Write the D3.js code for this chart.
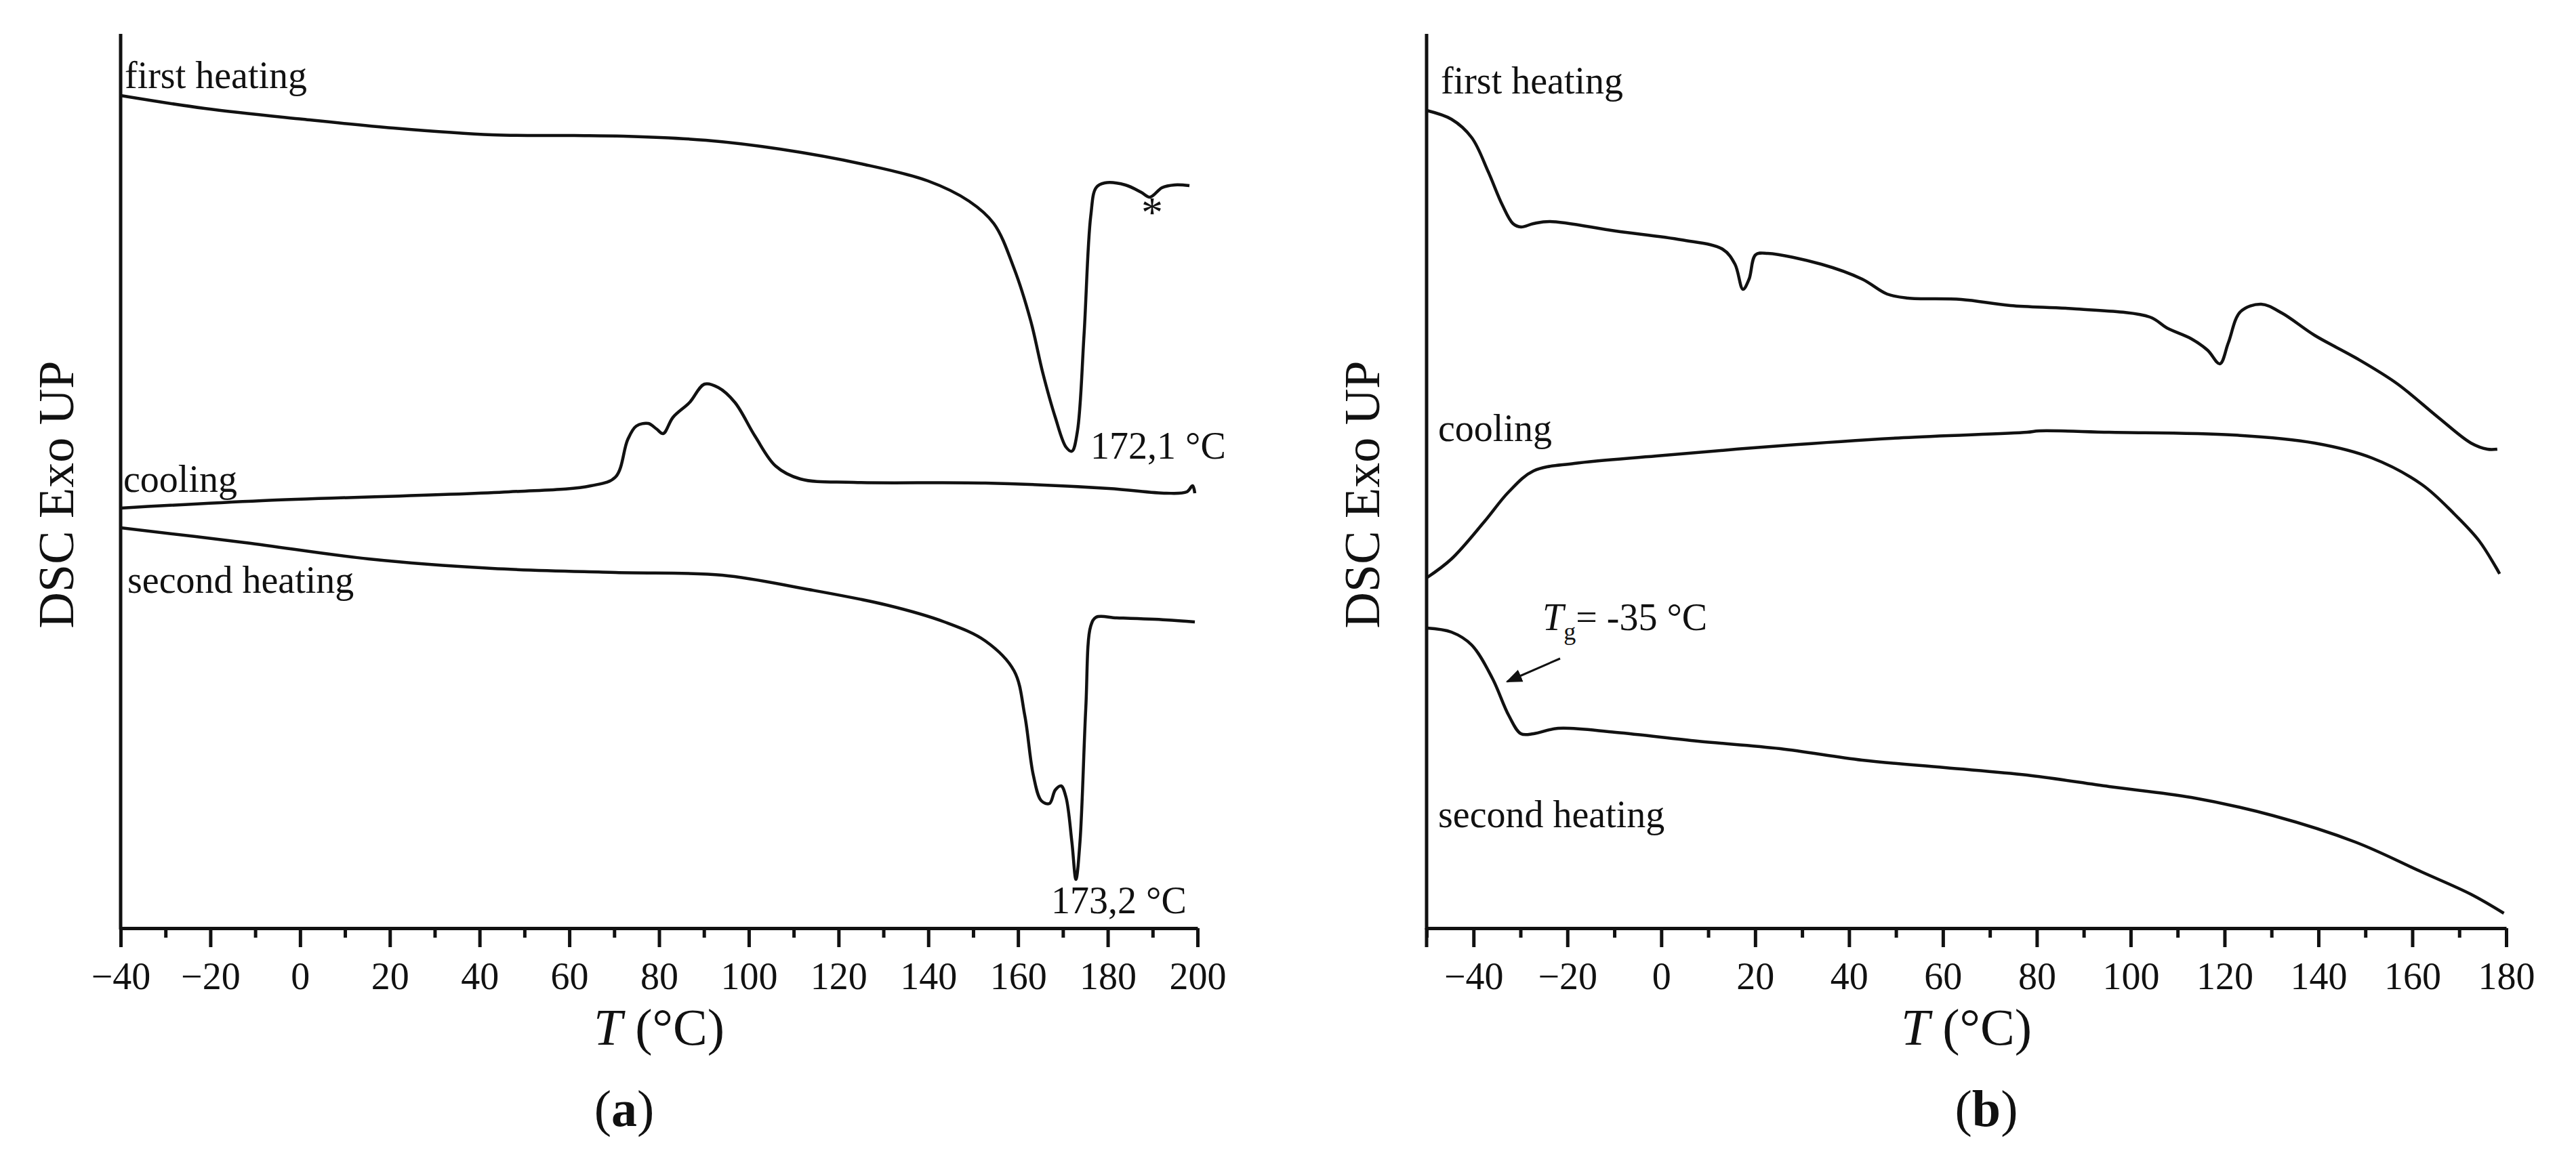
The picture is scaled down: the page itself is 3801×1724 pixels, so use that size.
<!DOCTYPE html>
<html>
<head>
<meta charset="utf-8">
<title>DSC</title>
<script src="https://d3js.org/d3.v7.min.js"></script>
<style>
  body { margin: 0; background: #fff; }
  text { font-family: "Liberation Serif", "DejaVu Serif", serif; fill: #111; }
</style>
</head>
<body>
<div id="chart"></div>
<script>
// Panel (a): temperatures and DSC signal (arbitrary units, exo up)
const aHeat1T = [-40,-21.3,0.7,20.8,42.8,61.1,72.1,90.4,106.9,125.2,139.9,149.1,154.6,159.1,162.8,165.5,168.3,170.7,172.0,173.2,174.7,176.2,177.4,179.3,183.9,187.5,189.4,192.1,194.9,198.2];
const aHeat1V = [1229,1210,1194,1181,1171,1170,1169,1163,1150,1128,1103,1073,1040,974,897,820,754,710,704,732,875,1051,1093,1100,1097,1086,1079,1093,1097,1096];
const aCoolT = [-40,-8.5,46.5,64.8,70.3,73.0,74.9,77.6,79.4,80.9,83.1,86.8,90.1,93.2,96.9,101.4,106.0,111.5,123.4,152.7,180.2,193.0,197.6,198.9,199.4];
const aCoolV = [620,631,644,653,666,721,741,745,737,730,754,776,803,798,776,726,682,663,658,657,649,642,644,653,642];
const aHeat2T = [-40,-12.2,15.3,42.8,70.3,94.1,112.4,130.7,143.6,152.7,159.1,161.5,163.4,165.2,167.0,168.3,169.6,170.7,172.0,172.9,173.8,175.1,176.2,177.4,182.0,193.0,199.4];
const aHeat2V = [591,569,545,531,525,521,501,477,452,424,380,314,226,188,184,204,210,193,127,72,127,325,446,459,458,455,452];

// Panel (b)
const bHeat1T = [-50,-44.7,-40.4,-36.9,-33.9,-31.6,-29.9,-27.2,-23.7,-9.7,4.3,13.1,15.7,17.4,18.7,20.1,22.7,34.1,42.8,48.1,52.5,63.9,74.4,88.4,104.1,107.7,112.9,116.4,119.0,120.8,123.4,127.8,132.2,139.2,147.9,156.7,165.5,172.5,176.0,178.1];
const bHeat1V = [1207,1194,1167,1117,1068,1040,1035,1040,1043,1029,1016,1002,980,943,958,994,996,980,958,936,930,928,919,914,902,886,870,853,833,864,910,921,908,875,842,804,754,716,707,707];
const bCoolT = [-50,-44.7,-37.7,-32.5,-27.2,-18.5,-1.0,25.3,51.6,77.9,80.5,95.4,121.7,139.2,151.4,162.0,169.0,174.2,177.7,178.6];
const bCoolV = [517,545,600,644,675,686,697,712,724,732,734,732,728,716,694,655,611,572,534,523];
const bHeat2T = [-50,-44.7,-40.4,-36.0,-32.5,-29.9,-27.2,-22.0,-9.7,7.8,25.3,42.8,60.4,77.9,95.4,112.9,130.4,147.9,162.0,172.5,179.5];
const bHeat2V = [443,437,418,369,314,287,287,295,289,276,265,248,237,226,209,193,166,127,83,50,22];

const aTicks = d3.range(-40, 201, 20);
const bTicks = d3.range(-40, 181, 20);

const W = 3801, H = 1724;
const yTop = 50, yBottom = 1370;

const svg = d3.select("#chart").append("svg")
  .attr("width", W).attr("height", H);

function zip(t, v) { return t.map((x, i) => [x, v[i]]); }

function panel(cfg) {
  const x = d3.scaleLinear().domain(cfg.xDomain).range([cfg.x0, cfg.x1]);
  const y = d3.scaleLinear().domain([0, 1320]).range([yBottom, yTop]);
  const g = svg.append("g");

  // minor ticks every 10
  const minor = d3.range(cfg.xDomain[0], cfg.xDomain[1] + 1, 10).filter(v => !cfg.ticks.includes(v));
  g.append("g").attr("transform", `translate(0,${yBottom})`)
    .call(d3.axisBottom(x).tickValues(minor).tickSize(14).tickFormat(""))
    .call(s => s.select(".domain").remove())
    .selectAll("line").attr("stroke", "#111").attr("stroke-width", 5);

  const ax = g.append("g").attr("transform", `translate(0,${yBottom})`)
    .call(d3.axisBottom(x).tickValues(cfg.ticks).tickSize(28).tickSizeOuter(0).tickPadding(22));
  ax.select(".domain").attr("stroke", "#111").attr("stroke-width", 5);
  ax.selectAll("line").attr("stroke", "#111").attr("stroke-width", 5);
  ax.selectAll("text").attr("font-size", 56).attr("font-family", "Liberation Serif").attr("fill", "#111");
  if (cfg.edgeTick) {
    g.append("line").attr("x1", cfg.x0).attr("x2", cfg.x0)
      .attr("y1", yBottom).attr("y2", yBottom + 28).attr("stroke", "#111").attr("stroke-width", 5);
  }

  g.append("line").attr("x1", cfg.x0).attr("x2", cfg.x0)
    .attr("y1", yTop).attr("y2", yBottom + 2).attr("stroke", "#111").attr("stroke-width", 5);

  const line = d3.line().x(d => x(d[0])).y(d => y(d[1])).curve(d3.curveCatmullRom.alpha(0.5));
  cfg.series.forEach(s => {
    g.append("path").datum(zip(s[0], s[1])).attr("d", line)
      .attr("fill", "none").attr("stroke", "#111").attr("stroke-width", 4.5);
  });

  // axis titles
  g.append("text").attr("transform", `translate(${cfg.x0 - 70},${(yTop + yBottom) / 2 + 20}) rotate(-90)`)
    .attr("text-anchor", "middle").attr("font-size", 74).attr("font-family", "Liberation Sans")
    .attr("fill", "#222").text("DSC Exo UP");
  const xt = g.append("text").attr("x", (cfg.x0 + cfg.x1) / 2).attr("y", 1542)
    .attr("text-anchor", "middle").attr("font-size", 76).attr("font-family", "Liberation Sans");
  xt.append("tspan").attr("font-style", "italic").attr("font-family", "Liberation Serif").text("T");
  xt.append("tspan").text(" (°C)");
  const pl = g.append("text").attr("x", cfg.labelX).attr("y", 1662)
    .attr("text-anchor", "middle").attr("font-size", 76);
  pl.append("tspan").text("(");
  pl.append("tspan").attr("font-weight", "bold").text(cfg.letter);
  pl.append("tspan").text(")");

  cfg.notes.forEach(n => {
    g.append("text").attr("x", n[0]).attr("y", n[1]).attr("font-size", 56).text(n[2]);
  });
  return { g, x, y };
}

const A = panel({
  xDomain: [-40, 200], x0: 178, x1: 1767, ticks: aTicks, letter: "a", labelX: 921,
  series: [[aHeat1T, aHeat1V], [aCoolT, aCoolV], [aHeat2T, aHeat2V]],
  notes: [[184, 130, "first heating"], [182, 726, "cooling"], [188, 875, "second  heating"],
          [1609, 677, "172,1 °C"], [1551, 1348, "173,2 °C"]]
});
A.g.append("text").attr("x", 1700).attr("y", 335).attr("text-anchor", "middle")
  .attr("font-size", 64).text("*");

const B = panel({
  xDomain: [-50, 180], x0: 2105, x1: 3698, ticks: bTicks, letter: "b", labelX: 2931, edgeTick: true,
  series: [[bHeat1T, bHeat1V], [bCoolT, bCoolV], [bHeat2T, bHeat2V]],
  notes: [[2126, 138, "first heating"], [2122, 651, "cooling"], [2122, 1221, "second  heating"]]
});
const tg = B.g.append("text").attr("x", 2276).attr("y", 930).attr("font-size", 56);
tg.append("tspan").attr("font-style", "italic").text("T");
tg.append("tspan").attr("font-size", 36).attr("dy", 14).text("g");
tg.append("tspan").attr("dy", -14).text("= -35 °C");
svg.append("defs").append("marker").attr("id", "arr").attr("viewBox", "0 0 10 10")
  .attr("refX", 9).attr("refY", 5).attr("markerWidth", 8).attr("markerHeight", 8).attr("orient", "auto")
  .append("path").attr("d", "M0,1 L10,5 L0,9 z").attr("fill", "#111");
B.g.append("line").attr("x1", 2302).attr("y1", 972).attr("x2", 2224).attr("y2", 1006)
  .attr("stroke", "#111").attr("stroke-width", 3).attr("marker-end", "url(#arr)");
</script>
</body>
</html>
